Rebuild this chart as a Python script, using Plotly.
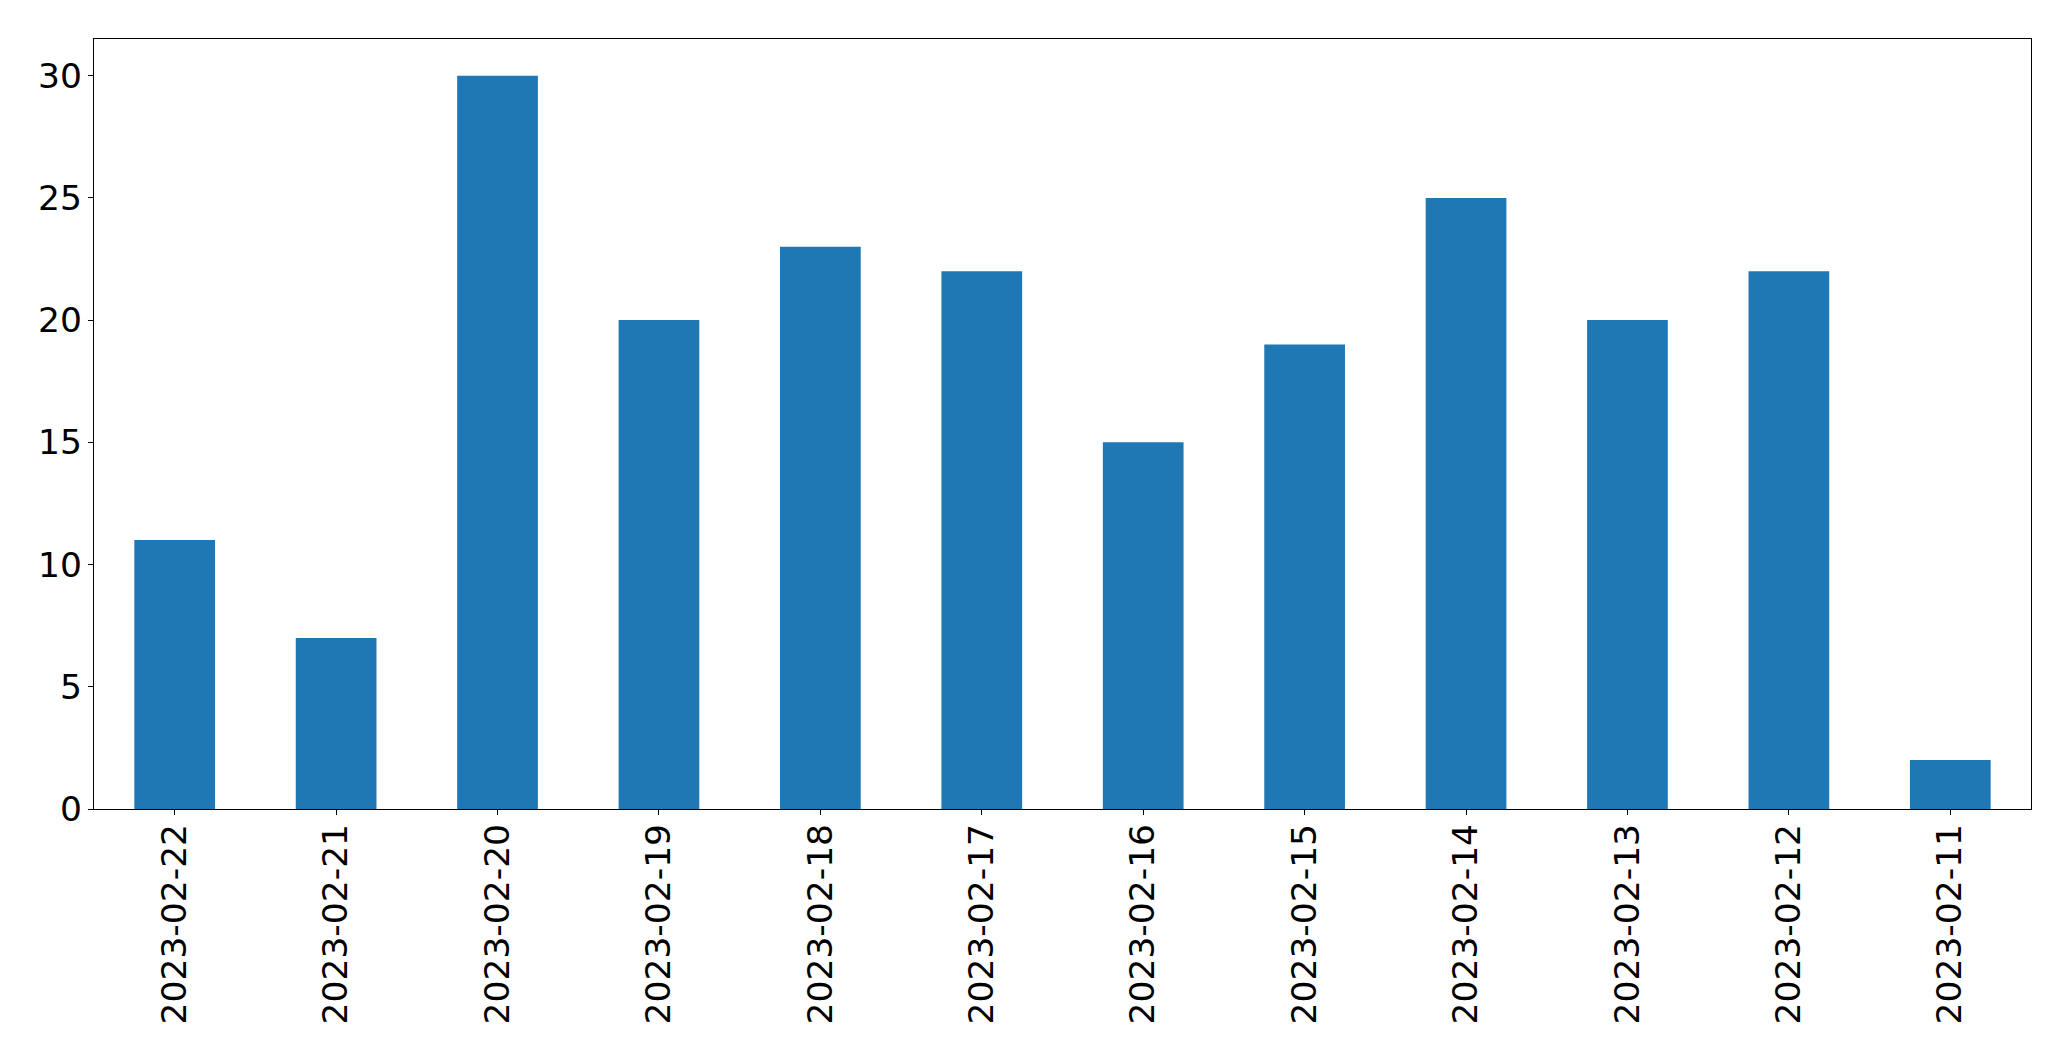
import plotly.graph_objects as go

dates = ["2023-02-22", "2023-02-21", "2023-02-20", "2023-02-19", "2023-02-18", "2023-02-17",
         "2023-02-16", "2023-02-15", "2023-02-14", "2023-02-13", "2023-02-12", "2023-02-11"]
counts = [11, 7, 30, 20, 23, 22, 15, 19, 25, 20, 22, 2]
y_ticks = [0, 5, 10, 15, 20, 25, 30]

fig = go.Figure(go.Bar(x=dates, y=counts, width=0.5, marker=dict(color="#1f77b4", line=dict(width=0))))

font = dict(family="DejaVu Sans", size=34.5, color="black")
# page body has an 8px margin, so the figure is shrunk by 16px and margins reduced by 8
fig.update_layout(
    width=2055, height=1045,
    margin=dict(l=86, r=32, t=31, b=244),
    paper_bgcolor="white", plot_bgcolor="white",
    showlegend=False,
    font=font,
)
fig.update_xaxes(
    type="category", range=[-0.5, 11.5], tickangle=-90,
    showline=True, mirror=True, linecolor="black", linewidth=1.3,
    ticks="outside", ticklen=5, tickwidth=1.3, tickcolor="black",
    showgrid=False, zeroline=False, tickfont=font, ticklabelstandoff=-5,
)
fig.update_yaxes(
    range=[0, 31.5], tickvals=y_ticks, ticktext=[str(v) for v in y_ticks],
    showline=True, mirror=True, linecolor="black", linewidth=1.3,
    ticks="outside", ticklen=5, tickwidth=1.3, tickcolor="black",
    showgrid=False, zeroline=False, tickfont=font, ticklabelstandoff=-1,
)
fig.write_html("out.html")
